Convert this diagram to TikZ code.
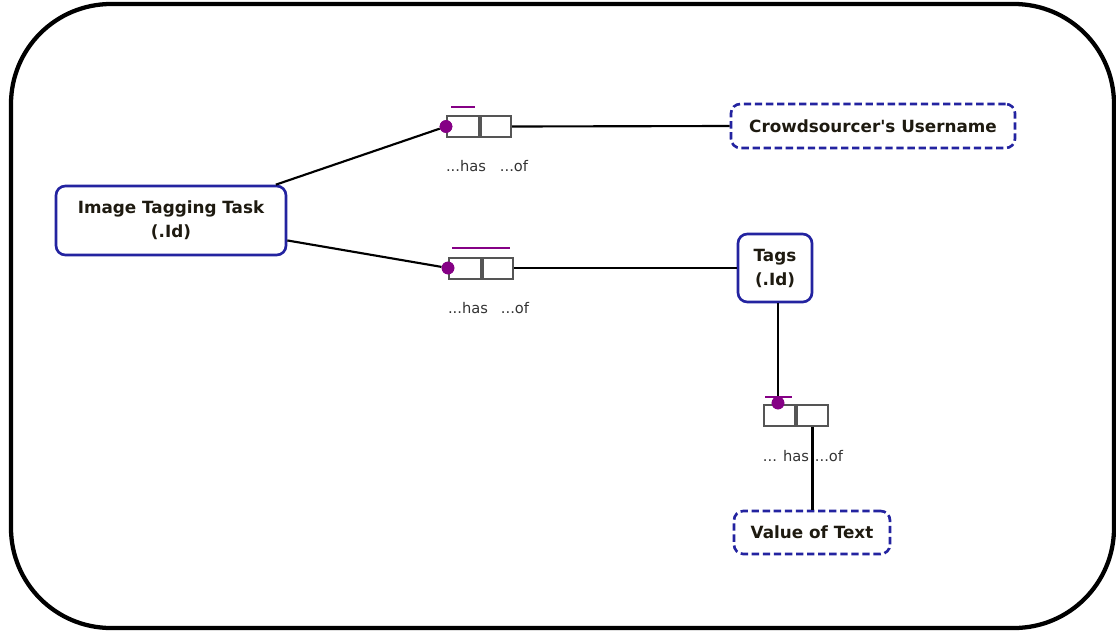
\documentclass[tikz,border=0pt]{standalone}
\usepackage{fontspec}
\setmainfont{DejaVu Sans}
\definecolor{nblue}{HTML}{2323A0}
\definecolor{rpurple}{HTML}{850085}
\definecolor{rgray}{HTML}{555555}
\definecolor{txt}{HTML}{1E1A10}
\begin{document}
\begin{tikzpicture}[x=0.75pt,y=-0.75pt,
  ent/.style={draw=nblue,line width=2pt,rounded corners=7pt,fill=white,align=center,
    font=\fontsize{12.6}{18}\selectfont\bfseries,text=txt,inner sep=0pt},
  val/.style={ent,dashed,dash pattern=on 5.5pt off 2.8pt},
  cell/.style={draw=rgray,line width=1.5pt,fill=white,minimum height=15.75pt,inner sep=0pt},
  rdot/.style={circle,fill=rpurple,minimum size=9.5pt,inner sep=0pt},
  ubar/.style={draw=rpurple,line width=1.5pt},
  conn/.style={draw=black,line width=1.6pt},
  lbl/.style={font=\fontsize{11}{13}\selectfont,text=black!80,inner sep=0pt}
]
\useasboundingbox (0,0) rectangle (1116,632);
\draw[line width=3.2pt,rounded corners=75pt] (11,4) rectangle (1114,628);

% entities
\node[ent,minimum width=172.5pt,minimum height=51.75pt] (itt) at (171,220.5) {Image Tagging Task\\(.Id)};
\node[val,minimum width=213pt,minimum height=33pt] (cu) at (873,126) {Crowdsourcer\textquotesingle s Username};
\node[ent,minimum width=55.5pt,minimum height=51pt] (tags) at (775,268) {Tags\\(.Id)};
\node[val,minimum width=117pt,minimum height=32.25pt] (vt) at (812,532.5) {Value of Text};

% role box 1
\node[cell,minimum width=24pt] (r1a) at (463,126.5) {};
\node[cell,minimum width=22.5pt,anchor=west] (r1b) at (r1a.east) {};
\node[rdot] (r1d) at (r1a.west) {};
\draw[ubar] (451,107) -- (475,107);
\node[lbl] (r1h) at (466,166) {...has};
\node[lbl] (r1o) at (514,166) {...of};

% role box 2
\node[cell,minimum width=24pt] (r2a) at (465,268) {};
\node[cell,minimum width=22.5pt,anchor=west] (r2b) at (r2a.east) {};
\node[rdot] (r2d) at (r2a.west) {};
\draw[ubar] (452,248) -- (510,248);
\node[lbl] (r2h) at (468,308) {...has};
\node[lbl] (r2o) at (515,308) {...of};

% role box 3
\node[cell,minimum width=23.25pt] (r3a) at (779.5,415) {};
\node[cell,minimum width=23.25pt,anchor=west] (r3b) at (r3a.east) {};
\node[rdot] (r3d) at (778,403) {};
\draw[ubar] (765,397) -- (792,397);
\node[lbl] (r3h) at (786,456) {... has};
\node[lbl] (r3o) at (829,456) {...of};

% connectors
\draw[conn] (itt) -- (r1d);
\draw[conn] (r1b.east) -- (cu.west);
\draw[conn] (itt) -- (r2d);
\draw[conn] (r2b.east) -- (r2b.east -| tags.west);
\draw[conn] (tags.south -| r3d) -- (r3d);
\draw[conn] (r3b.south) -- (r3b.south |- vt.north);
\node[rdot] at (r1d) {};
\node[rdot] at (r2d) {};
\node[rdot] at (r3d) {};
\end{tikzpicture}
\end{document}
